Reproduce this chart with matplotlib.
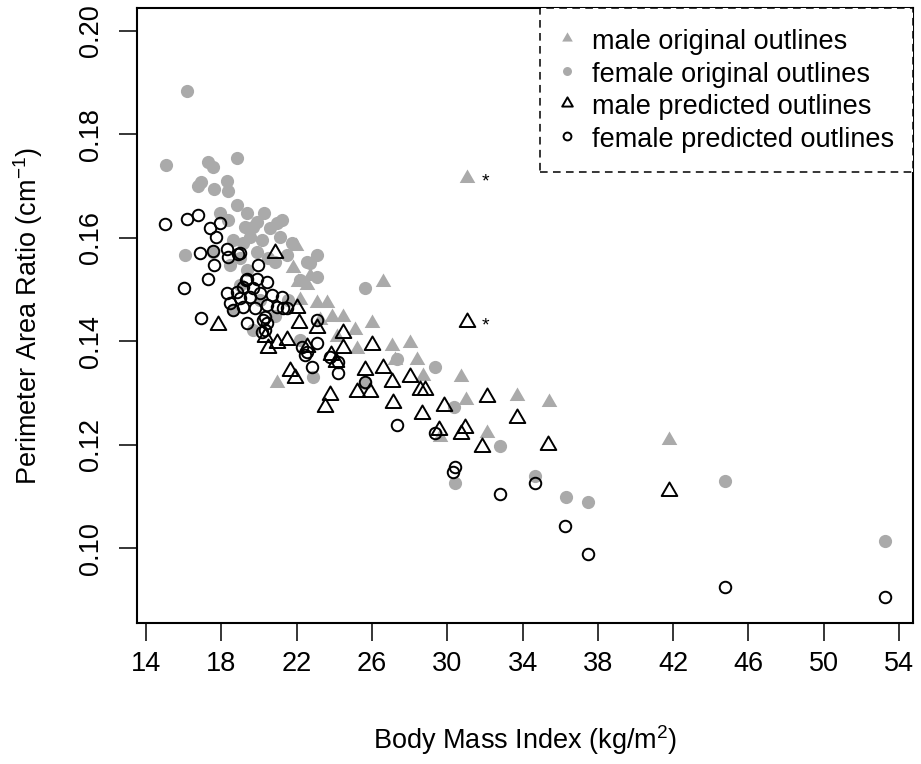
import numpy as np
import matplotlib
matplotlib.use("Agg")
import matplotlib.pyplot as plt
from matplotlib.lines import Line2D
from matplotlib.path import Path

plt.rcParams['font.family'] = ['Liberation Sans', 'DejaVu Sans']
plt.rcParams['mathtext.default'] = 'regular'

# male original outlines (grey filled triangles)
male_orig_bmi = [21.97, 21.81, 22.71, 22.07, 22.55, 23.08, 23.61, 23.88, 24.46, 26.59,
                 26.00, 25.21, 27.06, 28.02, 28.39, 28.71, 30.73, 30.99, 33.70, 35.40,
                 32.11, 20.96, 31.05, 41.77, 29.61, 24.14, 22.18, 23.24, 25.10, 27.22]
male_orig_par = [0.1585, 0.1542, 0.1527, 0.1515, 0.1509, 0.1474, 0.1474, 0.1447, 0.1447, 0.1515,
                 0.1436, 0.1385, 0.1391, 0.1397, 0.1364, 0.1333, 0.1331, 0.1287, 0.1295, 0.1283,
                 0.1223, 0.1320, 0.1716, 0.1210, 0.1215, 0.1409, 0.1480, 0.1442, 0.1422, 0.1364]

# female original outlines (grey filled circles)
fem_orig_bmi = [16.18, 15.06, 17.29, 17.56, 18.83, 16.92, 16.76, 17.61, 18.30, 18.35,
                18.83, 19.36, 20.27, 19.89, 21.22, 17.93, 18.35, 19.68, 20.59, 18.62,
                19.52, 21.12, 16.07, 17.56, 19.89, 20.48, 21.49, 23.08, 22.55, 19.36,
                23.08, 22.18, 19.26, 20.96, 22.71, 25.63, 19.15, 20.16, 18.99, 18.46,
                21.75, 20.85, 19.68, 21.54, 20.05, 18.99, 20.85, 22.87, 22.18, 25.63,
                27.33, 29.35, 30.36, 32.80, 34.66, 30.41, 36.30, 37.47, 44.75, 53.25,
                18.62]
fem_orig_par = [0.1884, 0.1741, 0.1747, 0.1737, 0.1755, 0.1708, 0.1700, 0.1695, 0.1710, 0.1691,
                0.1664, 0.1648, 0.1648, 0.1631, 0.1635, 0.1648, 0.1635, 0.1621, 0.1619, 0.1596,
                0.1602, 0.1602, 0.1567, 0.1573, 0.1573, 0.1561, 0.1567, 0.1567, 0.1554, 0.1538,
                0.1525, 0.1519, 0.1621, 0.1629, 0.1552, 0.1503, 0.1590, 0.1596, 0.1561, 0.1548,
                0.1590, 0.1554, 0.1422, 0.1480, 0.1480, 0.1509, 0.1449, 0.1331, 0.1403, 0.1320,
                0.1366, 0.1351, 0.1273, 0.1198, 0.1140, 0.1127, 0.1099, 0.1090, 0.1130, 0.1014,
                0.1461]

# male predicted outlines (open triangles)
male_pred_bmi = [31.05, 41.77, 20.85, 17.82, 22.02, 22.13, 23.08, 24.46, 20.48, 20.96,
                 21.49, 20.32, 24.46, 26.00, 23.82, 22.55, 21.65, 21.91, 25.63, 26.59,
                 27.06, 28.02, 28.55, 28.82, 25.21, 25.90, 23.77, 23.51, 27.12, 28.66,
                 29.83, 29.56, 30.94, 30.73, 31.84, 32.11, 33.70, 35.35, 24.09]
male_pred_par = [0.1438, 0.1111, 0.1571, 0.1432, 0.1465, 0.1436, 0.1426, 0.1416, 0.1387, 0.1397,
                 0.1403, 0.1409, 0.1387, 0.1393, 0.1374, 0.1389, 0.1343, 0.1329, 0.1345, 0.1349,
                 0.1322, 0.1331, 0.1306, 0.1306, 0.1302, 0.1302, 0.1297, 0.1273, 0.1281, 0.1260,
                 0.1275, 0.1229, 0.1233, 0.1221, 0.1196, 0.1293, 0.1252, 0.1200, 0.1360]

# female predicted outlines (open circles)
fem_pred_bmi = [15.01, 16.18, 16.76, 17.40, 17.93, 17.72, 16.87, 17.56, 18.30, 18.35,
                18.89, 17.61, 19.95, 17.29, 16.02, 16.92, 18.30, 19.36, 19.89, 20.43,
                19.15, 19.68, 18.83, 18.46, 18.99, 19.52, 20.05, 20.69, 21.22, 18.62,
                19.15, 19.79, 20.43, 20.96, 21.28, 19.36, 20.32, 20.43, 20.16, 23.08,
                18.99, 19.31, 21.49, 20.21, 20.32, 23.08, 22.28, 22.55, 22.44, 22.82,
                23.77, 24.20, 24.20, 25.63, 27.33, 29.35, 30.41, 30.30, 32.80, 34.66,
                36.25, 37.47, 44.75, 53.25]
fem_pred_par = [0.1627, 0.1637, 0.1644, 0.1619, 0.1629, 0.1602, 0.1571, 0.1575, 0.1579, 0.1563,
                0.1569, 0.1548, 0.1548, 0.1521, 0.1503, 0.1445, 0.1494, 0.1521, 0.1521, 0.1515,
                0.1505, 0.1503, 0.1496, 0.1474, 0.1484, 0.1486, 0.1494, 0.1490, 0.1486, 0.1461,
                0.1467, 0.1465, 0.1471, 0.1467, 0.1465, 0.1436, 0.1447, 0.1436, 0.1418, 0.1442,
                0.1571, 0.1519, 0.1465, 0.1442, 0.1422, 0.1397, 0.1389, 0.1380, 0.1374, 0.1351,
                0.1370, 0.1360, 0.1339, 0.1322, 0.1239, 0.1223, 0.1157, 0.1148, 0.1105, 0.1127,
                0.1043, 0.0989, 0.0925, 0.0906]

# the two flagged male outlines (marked with *)
star_bmi = [31.05, 31.05]
star_par = [0.1716, 0.1438]

legend_labels = ["male original outlines", "female original outlines",
                 "male predicted outlines", "female predicted outlines"]

grey = "#AAAAAA"
tri = Path([(0, 1), (-0.866, -0.5), (0.866, -0.5), (0, 1)], closed=True)

fig = plt.figure(figsize=(9.21, 7.64), dpi=100)
ax = fig.add_axes([0.14875, 0.18455, 0.84256, 0.80497])

ax.plot(male_orig_bmi, male_orig_par, ls='none', marker=tri, ms=13, color=grey, mec='none')
ax.plot(fem_orig_bmi, fem_orig_par, ls='none', marker='o', ms=9.5, color=grey, mec='none')
ax.plot(male_pred_bmi, male_pred_par, ls='none', marker=tri, ms=13, mfc='none', mec='black', mew=1.4)
ax.plot(fem_pred_bmi, fem_pred_par, ls='none', marker='o', ms=8.3, mfc='none', mec='black', mew=1.4)

for bx, py in zip(star_bmi, star_par):
    ax.text(bx + 1.0, py - 0.0009, "*", fontsize=14, ha='center', va='center')

ax.set_xlim(13.52, 54.74)
ax.set_ylim(0.0856, 0.2044)
ax.set_xticks(np.arange(14, 55, 4))
ax.set_yticks([0.10, 0.12, 0.14, 0.16, 0.18, 0.20])
ax.set_yticklabels(["0.10", "0.12", "0.14", "0.16", "0.18", "0.20"], rotation=90, va='center')

for sp in ax.spines.values():
    sp.set_linewidth(1.5)
ax.tick_params(axis='both', direction='out', length=13, width=1.1, labelsize=19.5)
ax.tick_params(axis='x', pad=7)
ax.tick_params(axis='y', pad=11)

ax.set_xlabel("Body Mass Index (kg/m$^2$)", fontsize=19.5, va='center')
ax.xaxis.set_label_coords(0.5, -0.19)
ax.set_ylabel("Perimeter Area Ratio (cm$^{-1}$)", fontsize=19.5, va='center')
ax.yaxis.set_label_coords(-0.1405, 0.5)

handles = [
    Line2D([], [], ls='none', marker=tri, ms=13, color=grey, mec='none'),
    Line2D([], [], ls='none', marker='o', ms=9.5, color=grey, mec='none'),
    Line2D([], [], ls='none', marker=tri, ms=13, mfc='none', mec='black', mew=1.4),
    Line2D([], [], ls='none', marker='o', ms=8.3, mfc='none', mec='black', mew=1.4),
]
leg = ax.legend(handles, legend_labels, loc='upper right', borderaxespad=0, fontsize=19.5,
                fancybox=False, framealpha=1, edgecolor='black', borderpad=0.7,
                handlelength=0.6, handleheight=1.13, handletextpad=0.62,
                labelspacing=0.15, markerscale=0.68)
leg.get_frame().set_linewidth(1.1)
leg.get_frame().set_linestyle((0, (5, 3.5)))

fig.savefig("out.png", dpi=100)
